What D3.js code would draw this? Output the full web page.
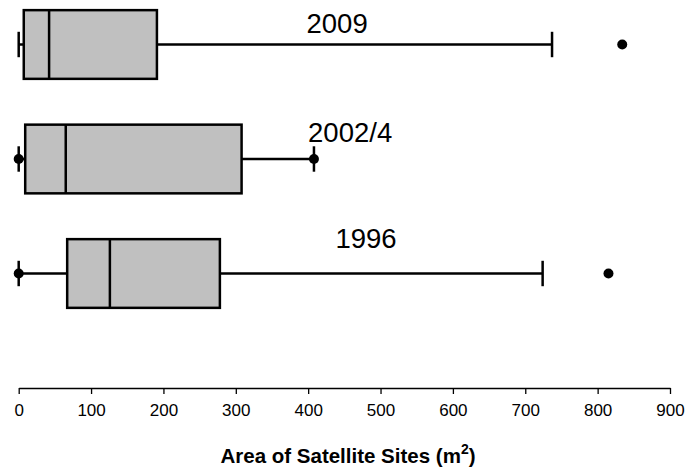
<!DOCTYPE html>
<html>
<head>
<meta charset="utf-8">
<script src="https://cdn.jsdelivr.net/npm/d3@7"></script>
<style>
  html, body { margin: 0; padding: 0; background: #fff; }
  svg { display: block; font-family: Arial, "Liberation Sans", sans-serif; }
</style>
</head>
<body>
<svg id="chart" width="687" height="468"></svg>
<script>
// Survey periods, bottom to top
const periods = ["1996", "2002/4", "2009"];
// Five-number summaries of satellite site area (m²)
const lowWhisker = [0, 0, 0];
const q1 = [67, 9, 7];
const median = [126, 65, 42];
const q3 = [278, 308, 191];
const highWhisker = [724, 408, 737];
// Points drawn individually (whisker-end points and outliers)
const points = [
  { period: "1996", value: 0 },
  { period: "1996", value: 815 },
  { period: "2002/4", value: 0 },
  { period: "2002/4", value: 408 },
  { period: "2009", value: 834 }
];
// Period labels: horizontal value and vertical position (in box units)
const labelX = [480, 458, 440];
const labelPos = [1.22, 2.15, 3.1];
// Axis ticks
const xTicks = [0, 100, 200, 300, 400, 500, 600, 700, 800, 900];

const svg = d3.select("#chart");

const x = d3.scaleLinear().domain([0, 900]).range([18.7, 670]);
// Box positions: 1, 2, 3; the axis sits at position 0
const y = d3.scaleLinear().domain([0, 3]).range([388, 44.5]);

const boxHalf = y(0) - y(0.3);
const capHalf = y(0) - y(0.111);
const stroke = "#000";
const lw = 2.5;

const rows = periods.map((p, i) => ({
  period: p, pos: i + 1,
  lo: lowWhisker[i], q1: q1[i], med: median[i], q3: q3[i], hi: highWhisker[i],
  lx: labelX[i], lp: labelPos[i]
}));

const g = svg.append("g");

const row = g.selectAll("g.box").data(rows).enter().append("g").attr("class", "box");

// whiskers
row.append("line")
  .attr("x1", d => x(d.lo)).attr("x2", d => x(d.q1))
  .attr("y1", d => y(d.pos)).attr("y2", d => y(d.pos))
  .attr("stroke", stroke).attr("stroke-width", lw);
row.append("line")
  .attr("x1", d => x(d.q3)).attr("x2", d => x(d.hi))
  .attr("y1", d => y(d.pos)).attr("y2", d => y(d.pos))
  .attr("stroke", stroke).attr("stroke-width", lw);
// whisker caps
row.append("line")
  .attr("x1", d => x(d.lo)).attr("x2", d => x(d.lo))
  .attr("y1", d => y(d.pos) - capHalf).attr("y2", d => y(d.pos) + capHalf)
  .attr("stroke", stroke).attr("stroke-width", lw);
row.append("line")
  .attr("x1", d => x(d.hi)).attr("x2", d => x(d.hi))
  .attr("y1", d => y(d.pos) - capHalf).attr("y2", d => y(d.pos) + capHalf)
  .attr("stroke", stroke).attr("stroke-width", lw);
// box
row.append("rect")
  .attr("x", d => x(d.q1)).attr("width", d => x(d.q3) - x(d.q1))
  .attr("y", d => y(d.pos) - boxHalf).attr("height", 2 * boxHalf)
  .attr("fill", "#c0c0c0").attr("stroke", stroke).attr("stroke-width", lw);
// median
row.append("line")
  .attr("x1", d => x(d.med)).attr("x2", d => x(d.med))
  .attr("y1", d => y(d.pos) - boxHalf).attr("y2", d => y(d.pos) + boxHalf)
  .attr("stroke", stroke).attr("stroke-width", lw);
// period labels
row.append("text")
  .attr("x", d => x(d.lx)).attr("y", d => y(d.lp))
  .attr("text-anchor", "middle")
  .attr("font-size", 27.5)
  .attr("fill", "#000")
  .text(d => d.period);

// individual points
const posOf = p => periods.indexOf(p) + 1;
g.selectAll("circle.pt").data(points).enter().append("circle")
  .attr("class", "pt")
  .attr("cx", d => x(d.value)).attr("cy", d => y(posOf(d.period)))
  .attr("r", 5).attr("fill", "#000");

// x axis
const axis = d3.axisBottom(x).tickValues(xTicks).tickSize(6).tickPadding(10).tickSizeOuter(0);
const ax = svg.append("g").attr("transform", `translate(0,${y(0)})`).call(axis);
ax.select(".domain").attr("stroke", "#000").attr("stroke-width", 1.3);
ax.selectAll(".tick line").attr("stroke", "#000").attr("stroke-width", 1.3);
ax.selectAll(".tick text")
  .attr("font-family", "Arial, 'Liberation Sans', sans-serif")
  .attr("font-size", 17).attr("fill", "#000");

// axis title
const title = svg.append("text")
  .attr("x", 348).attr("y", 463)
  .attr("text-anchor", "middle")
  .attr("font-size", 20.5).attr("font-weight", "bold").attr("fill", "#000");
title.append("tspan").text("Area of Satellite Sites (m");
title.append("tspan").attr("font-size", 14).attr("dy", -9).text("2");
title.append("tspan").attr("dy", 9).text(")");
</script>
</body>
</html>
